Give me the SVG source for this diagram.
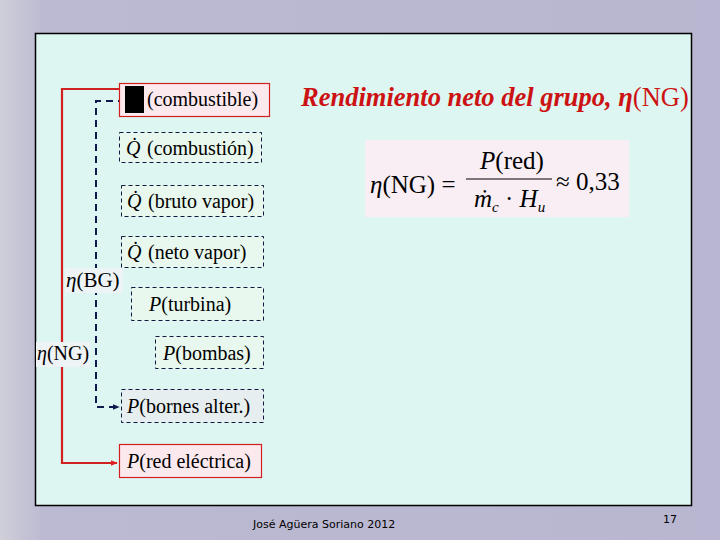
<svg xmlns="http://www.w3.org/2000/svg" width="720" height="540" viewBox="0 0 720 540">
<defs>
<linearGradient id="bg" x1="0" y1="0" x2="1" y2="0">
<stop offset="0" stop-color="#cfcfd9"/>
<stop offset="0.06" stop-color="#bcbad2"/>
<stop offset="1" stop-color="#b8b6d0"/>
</linearGradient>
<marker id="ar" viewBox="0 0 10 10" refX="9" refY="5" markerWidth="7" markerHeight="7" orient="auto" markerUnits="userSpaceOnUse">
<path d="M0,1 L10,5 L0,9 Z" fill="#e02020"/>
</marker>
<marker id="an" viewBox="0 0 10 10" refX="9" refY="5" markerWidth="7" markerHeight="7" orient="auto" markerUnits="userSpaceOnUse">
<path d="M0,1 L10,5 L0,9 Z" fill="#101850"/>
</marker>
<style>
.t{font-family:'Liberation Serif','Times New Roman',serif;font-size:20px;fill:#000}
.f{font-family:'Liberation Serif','Times New Roman',serif;font-size:25px;fill:#000}
.i{font-style:italic}
.red{fill:#fbe9ee;stroke:#d02020;stroke-width:1.2}
.dsh{fill:#e8f8ee;stroke:#101840;stroke-width:1;stroke-dasharray:4,3}
.lbl{fill:#eef4f6}
</style>
</defs>
<rect width="720" height="540" fill="url(#bg)"/>
<rect x="35.5" y="33.5" width="656" height="472" fill="#def6f1" stroke="#000" stroke-width="1.5"/>

<g id="connectors">
<polyline points="119,89 62,89 62,463 117,463" fill="none" stroke="#d02020" stroke-width="2.2" marker-end="url(#ar)"/>
<polyline points="125,101 96,101 96,407 119,407" fill="none" stroke="#101850" stroke-width="2" stroke-dasharray="7,5" marker-end="url(#an)"/>
</g>

<g id="eta-BG">
<rect x="65" y="268" width="58" height="25" class="lbl"/>
<text x="66" y="287" class="t" style="font-size:21px"><tspan class="i">η</tspan>(BG)</text>
</g>
<g id="eta-NG">
<rect x="36" y="342" width="54" height="25" class="lbl"/>
<text x="37" y="360" class="t"><tspan class="i">η</tspan>(NG)</text>
</g>

<g id="n-combustible">
<rect x="119.5" y="83.5" width="150" height="33" class="red"/>
<rect x="125" y="86" width="19" height="27" fill="#000"/>
<text x="147" y="106" class="t">(combustible)</text>
</g>
<g id="n-combustion">
<rect x="119.5" y="132.5" width="142" height="30" class="dsh"/>
<text y="155" class="t"><tspan x="126" class="i">Q̇</tspan><tspan x="147">(combustión)</tspan></text>
</g>
<g id="n-bruto">
<rect x="121.5" y="185.5" width="142" height="31" class="dsh"/>
<text y="208" class="t"><tspan x="127" class="i">Q̇</tspan><tspan x="148">(bruto vapor)</tspan></text>
</g>
<g id="n-neto">
<rect x="121.5" y="236.5" width="142" height="31" class="dsh"/>
<text y="259" class="t"><tspan x="127" class="i">Q̇</tspan><tspan x="148">(neto vapor)</tspan></text>
</g>
<g id="n-turbina">
<rect x="131.5" y="287.5" width="132" height="33" class="dsh"/>
<text x="149" y="311" class="t"><tspan class="i">P</tspan>(turbina)</text>
</g>
<g id="n-bombas">
<rect x="155.5" y="336.5" width="108" height="32" class="dsh"/>
<text x="163" y="360" class="t"><tspan class="i">P</tspan>(bombas)</text>
</g>
<g id="n-bornes">
<rect x="121.5" y="389.5" width="142" height="33" class="dsh" style="fill:#e6eef0"/>
<text x="127" y="413" class="t"><tspan class="i">P</tspan>(bornes alter.)</text>
</g>
<g id="n-red">
<rect x="119.5" y="444.5" width="142" height="33" class="red"/>
<text x="127" y="468" class="t"><tspan class="i">P</tspan>(red eléctrica)</text>
</g>

<g id="title">
<text x="301" y="106" font-family="'Liberation Serif',serif" font-size="26.5" fill="#cc1212"><tspan font-style="italic" font-weight="bold">Rendimiento neto del grupo, η</tspan><tspan>(NG)</tspan></text>
</g>

<g id="formula">
<rect x="365" y="140" width="264" height="77" fill="#f8eef4"/>
<text x="370" y="193" class="f"><tspan class="i">η</tspan>(NG) =</text>
<text x="512" y="169" class="f" text-anchor="middle"><tspan class="i">P</tspan>(red)</text>
<line x1="466" y1="179" x2="552" y2="179" stroke="#000" stroke-width="1.2"/>
<text x="474" y="207" class="f"><tspan class="i">ṁ</tspan><tspan class="i" font-size="15" dy="5">c</tspan><tspan dy="-5"> · </tspan><tspan class="i">H</tspan><tspan class="i" font-size="15" dy="5">u</tspan></text>
<text x="556" y="190" class="f">≈ 0,33</text>
</g>

<text x="253" y="528" font-family="DejaVu Sans,Verdana,sans-serif" font-size="11" fill="#000">José Agüera Soriano 2012</text>
<text x="663" y="523" font-family="DejaVu Sans,Verdana,sans-serif" font-size="11" fill="#000">17</text>
</svg>
